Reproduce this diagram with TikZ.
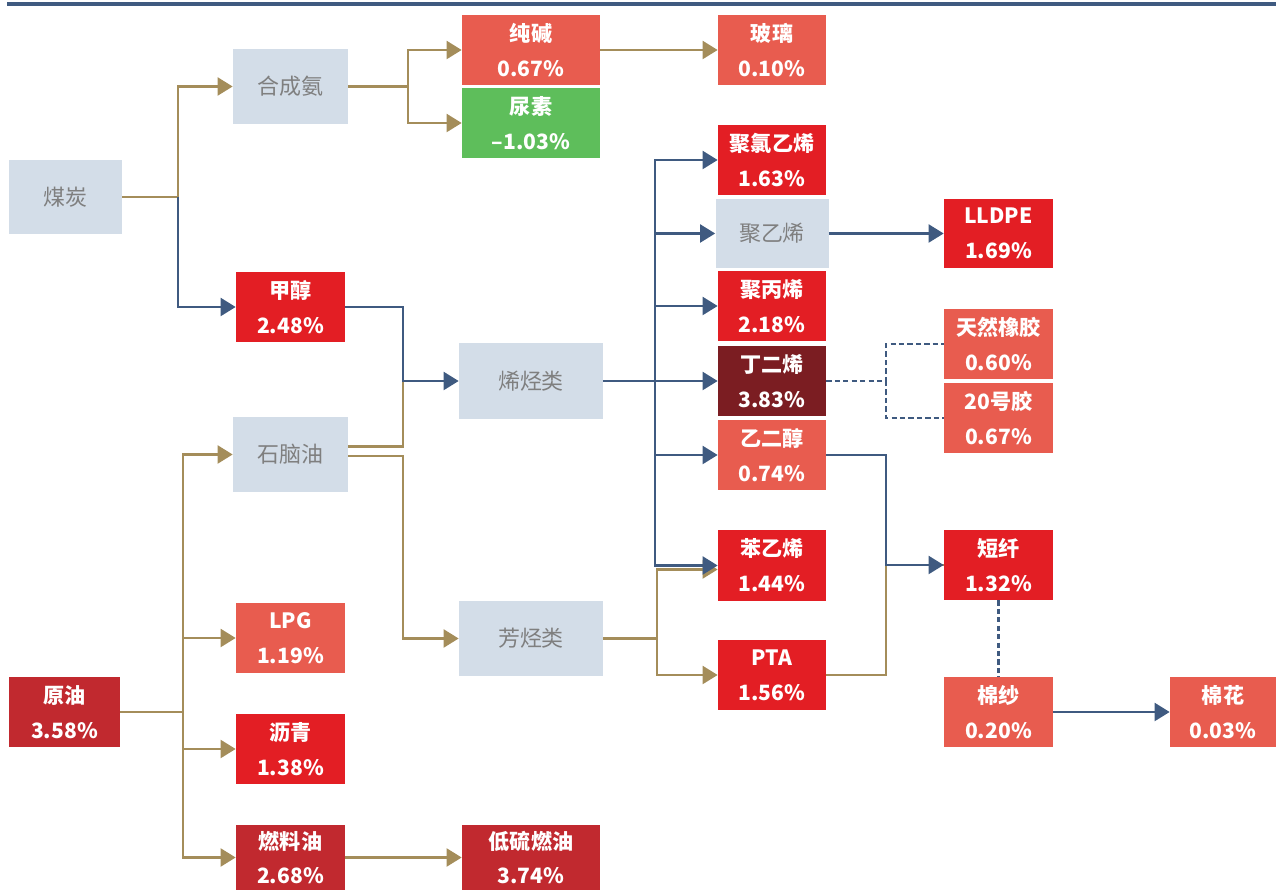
\documentclass[tikz,border=0pt]{standalone}
\usepackage{fontspec}
\newfontfamily\cjk{Noto Sans CJK SC}
\usetikzlibrary{arrows.meta,calc}
\definecolor{gfill}{HTML}{D3DDE8}
\definecolor{gtext}{HTML}{7F7F7F}
\definecolor{cred}{HTML}{E31E24}
\definecolor{csal}{HTML}{E85C4F}
\definecolor{cgreen}{HTML}{5EBE5B}
\definecolor{cdark}{HTML}{7B1D22}
\definecolor{ccrim}{HTML}{C1292F}
\definecolor{lgold}{HTML}{A48D5A}
\definecolor{lblue}{HTML}{3F5A80}
\tikzset{
  gbox/.style={fill=gfill, text=gtext, inner sep=0pt, font=\cjk\fontsize{12.5}{15}\selectfont},
  cbox/.style={fill=#1, text=white, inner sep=0pt, align=center, font=\cjk\bfseries\fontsize{12}{19.8}\selectfont},
  gl/.style={draw=lgold, line width=1.2pt},
  bll/.style={draw=lblue, line width=1.2pt},
  arr/.style={-{Triangle[length=0.3cm,width=0.36cm]}},
  dsh/.style={dash pattern=on 3pt off 1.8pt}
}
\begin{document}
\begin{tikzpicture}[x=0.02cm,y=-0.02cm]
\useasboundingbox (0,0) rectangle (1276,891);
\draw[lblue, line width=0.08cm] (7,4) -- (1276,4);
% nodes
\node[gbox, minimum width=113*0.02cm, minimum height=74*0.02cm] (mt) at (65.5,197) {煤炭};
\node[gbox, minimum width=115*0.02cm, minimum height=75*0.02cm] (hcq) at (290.5,86.5) {合成氨};
\node[cbox=csal, minimum width=138*0.02cm, minimum height=70*0.02cm] (cj) at (531,50) {纯碱\\0.67\%};
\node[cbox=cgreen, minimum width=138*0.02cm, minimum height=70*0.02cm] (ns) at (531,123) {尿素\\–1.03\%};
\node[cbox=csal, minimum width=108*0.02cm, minimum height=70*0.02cm] (bl) at (772,50) {玻璃\\0.10\%};
\node[cbox=cred, minimum width=108*0.02cm, minimum height=70*0.02cm] (plv) at (772,160) {聚氯乙烯\\1.63\%};
\node[gbox, minimum width=113*0.02cm, minimum height=69*0.02cm] (pe) at (772,233.5) {聚乙烯};
\node[cbox=cred, minimum width=109*0.02cm, minimum height=69*0.02cm] (lldpe) at (998.5,233.5) {LLDPE\\1.69\%};
\node[cbox=cred, minimum width=108*0.02cm, minimum height=70*0.02cm] (pp) at (772,306) {聚丙烯\\2.18\%};
\node[cbox=cdark, minimum width=108*0.02cm, minimum height=70*0.02cm] (bd) at (772,381) {丁二烯\\3.83\%};
\node[cbox=csal, minimum width=108*0.02cm, minimum height=70*0.02cm] (meg) at (772,455) {乙二醇\\0.74\%};
\node[cbox=csal, minimum width=109*0.02cm, minimum height=70*0.02cm] (trj) at (998.5,344) {天然橡胶\\0.60\%};
\node[cbox=csal, minimum width=109*0.02cm, minimum height=70*0.02cm] (hj) at (998.5,418) {20号胶\\0.67\%};
\node[cbox=cred, minimum width=108*0.02cm, minimum height=71*0.02cm] (sm) at (772,565.5) {苯乙烯\\1.44\%};
\node[cbox=cred, minimum width=108*0.02cm, minimum height=70*0.02cm] (pta) at (772,675) {PTA\\1.56\%};
\node[cbox=cred, minimum width=109*0.02cm, minimum height=70*0.02cm] (dx) at (998.5,565) {短纤\\1.32\%};
\node[cbox=csal, minimum width=109*0.02cm, minimum height=70*0.02cm] (ms) at (998.5,712) {棉纱\\0.20\%};
\node[cbox=csal, minimum width=106*0.02cm, minimum height=70*0.02cm] (mh) at (1223,712) {棉花\\0.03\%};
\node[cbox=cred, minimum width=109*0.02cm, minimum height=70*0.02cm] (jc) at (290.5,307) {甲醇\\2.48\%};
\node[gbox, minimum width=144*0.02cm, minimum height=76*0.02cm] (xt) at (531,381) {烯烃类};
\node[gbox, minimum width=115*0.02cm, minimum height=75*0.02cm] (snm) at (290.5,454.5) {石脑油};
\node[gbox, minimum width=144*0.02cm, minimum height=75*0.02cm] (ft) at (531,638.5) {芳烃类};
\node[cbox=csal, minimum width=109*0.02cm, minimum height=70*0.02cm] (lpg) at (290.5,638) {LPG\\1.19\%};
\node[cbox=ccrim, minimum width=111*0.02cm, minimum height=70*0.02cm] (yy) at (64.5,712) {原油\\3.58\%};
\node[cbox=cred, minimum width=109*0.02cm, minimum height=70*0.02cm] (lq) at (290.5,749) {沥青\\1.38\%};
\node[cbox=ccrim, minimum width=109*0.02cm, minimum height=65*0.02cm] (rly) at (290.5,857.5) {燃料油\\2.68\%};
\node[cbox=ccrim, minimum width=138*0.02cm, minimum height=65*0.02cm] (dlr) at (531,857.5) {低硫燃油\\3.74\%};
\coordinate (j1) at (403,381);
% connectors
\draw[gl,arr] (mt.east) -- ++(56,0) |- (hcq.west);
\draw[bll,arr] (mt.east) ++(56,0) |- (jc.west);
\draw[gl,arr] (hcq.east) -- ++(60,0) |- (cj.west);
\draw[gl,arr] (hcq.east) ++(60,0) |- (ns.west);
\draw[gl,arr] (cj.east) -- (bl.west);
\draw[gl] ($(snm.east)+(0,-8)$) -| (j1);
\draw[gl,arr] ($(snm.east)+(0,1.5)$) -- ++(55,0) |- (ft.west);
\draw[bll,arr] (jc.east) -- ++(58,0) |- (xt.west);
\draw[gl,arr] (yy.east) -- ++(63,0) |- (snm.west);
\draw[gl,arr] (yy.east) ++(63,0) |- (lpg.west);
\draw[gl,arr] (yy.east) ++(63,0) |- (lq.west);
\draw[gl,arr] (yy.east) ++(63,0) |- (rly.west);
\draw[gl,arr] (rly.east) -- (dlr.west);
\draw[gl,arr] (ft.east) -- ++(54,0) |- (pta.west);
\draw[gl,arr] (ft.east) ++(54,0) |- ($(sm.west)+(0,4)$);
\draw[bll,arr] (xt.east) -- ++(52,0) |- (plv.west);
\draw[bll,arr] (xt.east) ++(52,0) |- (pe.west);
\draw[bll,arr] (xt.east) ++(52,0) |- (pp.west);
\draw[bll,arr] (xt.east) ++(52,0) |- (bd.west);
\draw[bll,arr] (xt.east) ++(52,0) |- (meg.west);
\draw[bll,arr] (xt.east) ++(52,0) |- (sm.west);
\draw[bll,arr] (pe.east) -- (lldpe.west);
\draw[bll,dsh] (bd.east) -- ++(60,0) |- (trj.west);
\draw[bll,dsh] (bd.east) ++(60,0) |- (hj.west);
\draw[gl] (pta.east) -- ++(60,0) |- (dx.west);
\draw[bll,arr] (meg.east) -- ++(60,0) |- (dx.west);
\draw[bll,dsh] (dx.south) -- (ms.north);
\draw[bll,arr] (ms.east) -- (mh.west);
\end{tikzpicture}
\end{document}
